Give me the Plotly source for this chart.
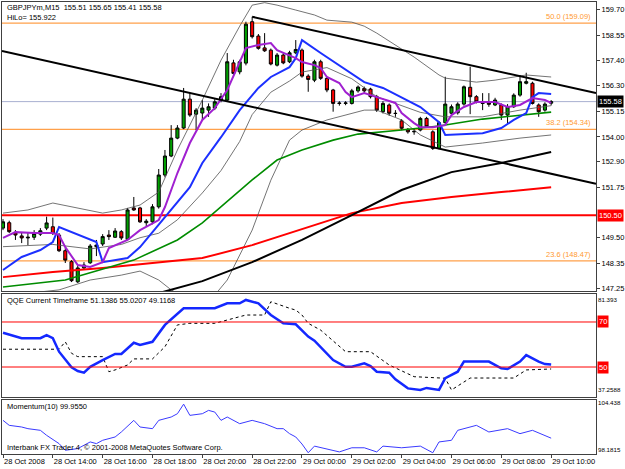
import plotly.graph_objects as go
from plotly.subplots import make_subplots

# ---------------- data ----------------
bars = list(range(89))
opens = [149.93,150.17,149.74,149.58,149.49,149.52,149.66,149.93,149.99,149.62,
         148.92,148.43,147.53,148.15,148.38,149.10,149.22,149.62,149.52,149.77,
         149.43,150.83,150.83,150.17,150.21,150.88,152.30,153.15,153.95,154.40,
         155.69,155.02,155.07,155.20,155.29,155.65,155.65,157.31,156.91,157.30,
         159.15,158.51,157.98,157.88,157.21,157.66,157.36,157.76,157.88,156.72,
         156.54,157.36,156.62,156.10,155.52,155.50,155.50,156.06,156.17,156.14,
         155.80,155.13,155.43,155.06,154.72,154.34,154.23,154.31,154.83,154.23,
         153.49,154.64,155.06,155.08,155.47,156.22,155.80,155.52,155.53,155.43,
         155.43,154.98,155.35,155.87,156.40,156.40,155.43,155.20,155.51]
highs = [150.33,150.26,149.84,149.75,149.75,149.84,149.93,150.44,150.40,149.71,
         149.03,148.50,148.28,148.41,149.22,149.40,149.66,149.84,149.93,149.84,
         150.83,151.32,150.88,150.33,151.00,152.57,153.42,154.53,154.53,156.19,
         155.96,155.29,155.65,155.50,155.69,155.96,157.75,157.45,157.45,159.15,
         159.37,158.60,158.64,157.95,157.75,157.75,157.85,158.33,157.95,156.80,
         157.45,157.45,156.70,156.15,155.60,155.60,156.15,156.30,156.25,156.20,
         155.88,155.60,155.50,155.20,154.80,154.40,154.40,154.90,154.90,154.30,
         154.70,156.69,155.45,155.55,156.30,157.14,155.87,155.96,155.96,155.75,
         155.50,155.47,155.95,156.77,156.87,156.47,155.50,155.55,155.65]
lows = [149.84,149.71,149.40,149.26,149.17,149.40,149.58,149.84,149.62,148.86,
        148.37,147.52,147.48,148.06,148.33,148.68,149.13,149.40,149.49,149.40,
        149.40,150.70,150.16,149.99,150.10,150.80,152.20,153.10,153.90,154.35,
        154.90,154.31,154.76,154.90,155.20,155.55,155.60,156.75,156.80,157.20,
        158.40,157.90,157.80,157.20,157.15,157.25,157.30,157.70,156.65,156.02,
        156.45,156.55,156.00,155.13,155.40,155.42,155.45,155.98,155.95,155.72,
        155.12,155.05,154.95,154.90,154.30,154.15,154.10,154.25,154.40,153.42,
        153.45,154.60,154.98,155.00,155.40,155.02,155.50,155.20,155.35,155.38,
        154.76,154.60,155.30,155.80,156.35,155.45,154.90,155.13,155.41]
closes = [150.21,149.77,149.62,149.49,149.52,149.69,149.81,150.16,149.69,148.92,
          148.50,147.58,148.15,148.28,149.13,149.17,149.55,149.55,149.80,149.49,
          150.74,150.74,150.21,150.24,150.88,152.30,153.15,153.95,154.40,155.69,
          154.98,155.20,155.29,155.35,155.57,155.80,157.36,156.84,157.36,159.04,
          158.48,157.96,157.85,157.26,157.66,157.31,157.76,157.91,156.72,156.57,
          157.36,156.62,156.10,155.50,155.50,155.52,156.06,156.23,156.06,155.80,
          155.20,155.50,155.06,155.05,154.39,154.23,154.25,154.83,154.46,153.49,
          154.64,155.47,155.35,155.47,156.24,155.80,155.57,155.50,155.46,155.65,
          154.98,155.35,155.87,156.47,156.47,155.50,155.13,155.47,155.58]

# moving averages / bands (bar index, price)
purple_x = [0,2,5,8,9,10,12,14,16,17,20,22,25,26,28,30,32,34,36,39,41,43,44,46,47,48,50,51,52,54,55,56,58,60,63,64,66,67,69,71,72,74,76,79,81,83,85,87,88]
purple_y = [149.49,149.75,149.71,149.71,149.62,149.08,148.28,148.19,148.41,149.04,149.40,149.84,150.29,150.87,152.39,153.73,154.76,155.29,156.10,157.97,158.11,158.20,157.88,157.66,157.52,157.35,157.21,157.08,156.68,156.41,156.01,155.78,155.96,155.78,155.52,155.07,154.62,154.44,154.44,154.53,154.98,155.34,155.56,155.56,155.34,155.43,155.74,155.65,155.52]
hilo_x = [0,3,6,8,9,15,16,20,22,26,30,32,35,38,41,43,46,47,48,51,55,58,61,64,67,70,71,77,80,82,84,85,86,88]
hilo_y = [148.06,148.64,148.95,149.31,149.98,149.31,148.41,148.59,149.08,150.42,151.76,152.84,153.99,155.20,156.19,156.68,157.12,157.52,158.33,157.75,156.99,156.45,156.19,155.78,155.34,154.66,154.09,154.17,154.40,154.76,155.07,155.78,155.96,155.922]
green_x = [0,10,21,28,32,35,40,44,48,53,57,64,70,77,83,88]
green_y = [147.30,147.61,148.50,149.40,150.16,150.87,152.08,152.97,153.42,153.86,154.13,154.31,154.49,154.80,154.98,155.11]
red_x = [0,8,16,24,32,40,48,56,64,72,80,88]
red_y = [147.74,147.97,148.15,148.37,148.59,149.17,149.89,150.60,151.05,151.32,151.54,151.76]
black_x = [24,32,40,48,56,64,72,80,88]
black_y = [146.95,147.56,148.41,149.40,150.51,151.63,152.43,152.84,153.33]
bb_up_x = [0,4,8,12,16,19,22,25,28,32,35,38,40,42,44,47,50,52,56,58,60,66,70,71,74,76,79,82,84,88]
bb_up_y = [150.60,150.74,151.05,150.83,150.60,150.74,150.96,151.54,153.42,155.65,157.43,158.95,159.89,160.00,159.89,159.67,159.45,159.22,159.13,158.95,158.64,157.57,156.77,156.63,156.54,156.45,156.54,156.68,156.77,156.68]
bb_mid_x = [0,8,14,19,22,25,28,32,35,38,40,43,46,48,52,56,60,64,67,71,77,83,88]
bb_mid_y = [149.1,149.2,149.0,149.2,149.5,149.7,150.3,151.5,152.5,153.8,155.0,156.0,156.5,156.9,157.1,156.6,155.8,155.4,155.1,154.9,154.9,155.2,155.4]
bb_lo_x = [0,9,14,19,22,25,27,30,34,36,40,43,46,48,52,55,58,60,64,67,71,77,83,88]
bb_lo_y = [146.9,147.17,147.61,147.83,148.01,147.61,147.17,146.72,146.94,147.61,149.84,152.07,153.86,154.31,154.76,154.98,155.20,155.20,154.76,154.09,153.55,153.73,153.95,154.09]

# trendlines (bar, price)
trend_hi_x = [40, 95.2]
trend_hi_y = [159.37, 155.96]
trend_lo_x = [-0.16, 95.2]
trend_lo_y = [157.84, 151.91]

fib_levels = ["50.0", "38.2", "23.6"]
fib_prices = [159.09, 154.34, 148.47]
support_level = 150.50
hilo_value = 155.922

price_ticks = [159.70,158.55,157.40,156.30,155.15,154.00,152.90,151.75,149.50,148.35,147.25]

# QQE
qqe_x = [0,3,6,7,8,9,11,12,13,14,16,18,19,21,22,24,26,29,34,36,38,39,41,43,45,47,49,50,53,55,56,58,59,60,62,63,65,67,68,70,71,73,74,75,78,80,81,83,84,86,87,88]
qqe_fast = [65.2,62.8,62.8,64.2,62.8,56.8,49.9,48.2,47.5,50.1,53.1,55.8,55.8,60.8,59.8,61.2,68.7,76.1,76.1,78.3,78.3,79.8,78.3,73.1,69.4,69.0,63.5,61.7,53.1,50.1,50.1,51.6,50.4,47.9,47.5,44.5,40.5,39.8,40.7,39.8,45.0,47.9,52.4,52.4,52.4,49.4,49.1,52.4,55.3,52.4,51.3,51.1386]
qqe_slow_x = [0,9,10,11,12,16,17,18,20,21,24,26,28,30,34,36,39,42,43,46,47,48,49,51,55,59,62,66,71,72,75,82,84,88]
qqe_slow = [57.9,57.9,61.2,56.1,54.6,54.6,47.9,48.7,50.9,53.6,53.6,59.0,68.7,69.4,69.4,70.9,73.1,73.1,79.0,76.1,75.3,73.1,69.4,66.4,56.8,56.8,50.9,45.7,45.0,39.8,45.1,45.1,48.7,49.1168]
qqe_levels = [70, 50]
qqe_ticks = [81.393, 37.2588]

# Momentum
mom_x = [0,1,3,4,6,7,9,10,12,14,15,16,18,19,21,22,24,25,27,28,29,30,32,33,34,35,36,38,40,42,44,45,46,47,48,49,50,54,56,58,60,61,64,67,69,70,72,73,76,78,81,83,85,88]
mom_y = [102.1,101.5,101.3,101.1,100.9,100.3,99.3,98.5,98.7,99.5,99.3,99.7,100.1,100.7,102.1,101.3,101.1,102.1,102.5,102.9,104.05,102.7,102.9,103.3,103.1,102.1,102.5,101.7,102.1,101.7,101.1,101.1,100.5,100.1,99.25,98.2,99.0,98.3,98.8,98.8,98.3,99.0,98.8,99.0,98.2,99.5,99.7,100.9,101.5,100.7,101.1,100.5,100.9,99.955]
mom_ticks = [104.4377, 98.1815]

time_ticks = [0,8,16,24,32,40,48,56,64,72,80,88]
time_labels = ["28 Oct 2008","28 Oct 14:00","28 Oct 16:00","28 Oct 18:00","28 Oct 20:00",
               "28 Oct 22:00","29 Oct 00:00","29 Oct 02:00","29 Oct 04:00","29 Oct 06:00",
               "29 Oct 08:00","29 Oct 10:00"]

# ---------------- figure ----------------
FONT = "Liberation Sans, Arial, sans-serif"
FS = 7.5
W, H = 625, 469
fig = make_subplots(rows=3, cols=1, shared_xaxes=True, vertical_spacing=0.0)

def line(x, y, color, width, row=1, dash=None):
    fig.add_trace(go.Scatter(x=x, y=y, mode="lines", line=dict(color=color, width=width, dash=dash),
                             showlegend=False, hoverinfo="skip"), row=row, col=1)

# horizontal objects (below)
for lvl, p in zip(fib_levels, fib_prices):
    fig.add_shape(type="line", xref="x domain", yref="y", x0=0, x1=1, y0=p, y1=p,
                  line=dict(color="#FFA04A", width=1.2), layer="below")
fig.add_shape(type="line", xref="x domain", yref="y", x0=0, x1=1, y0=support_level, y1=support_level,
              line=dict(color="#FF0000", width=2), layer="below")
fig.add_shape(type="line", xref="x domain", yref="y", x0=0, x1=1, y0=closes[-1], y1=closes[-1],
              line=dict(color="#A8B0D0", width=1), layer="below")

# bands
line(bb_up_x, bb_up_y, "#505050", 0.8)
line(bb_mid_x, bb_mid_y, "#505050", 0.8)
line(bb_lo_x, bb_lo_y, "#505050", 0.8)
line(red_x, red_y, "#FF0000", 2)
line(black_x, black_y, "#000000", 2)
line(green_x, green_y, "#008C00", 1.6)

fig.add_trace(go.Candlestick(x=bars, open=opens, high=highs, low=lows, close=closes,
                             increasing=dict(line=dict(color="black", width=1), fillcolor="#00A000"),
                             decreasing=dict(line=dict(color="black", width=1), fillcolor="#FF0000"),
                             whiskerwidth=0, showlegend=False, hoverinfo="skip"), row=1, col=1)

line(hilo_x, hilo_y, "#1C30FF", 2)
line(purple_x, purple_y, "#A020D0", 2)
line(trend_hi_x, trend_hi_y, "#000000", 2)
line(trend_lo_x, trend_lo_y, "#000000", 2)

# QQE panel
for lv in qqe_levels:
    fig.add_shape(type="line", xref="x2 domain", yref="y2", x0=0, x1=1, y0=lv, y1=lv,
                  line=dict(color="#FF0000", width=1))
line(qqe_slow_x, qqe_slow, "#000000", 1, row=2, dash="dot")
line(qqe_x, qqe_fast, "#1428FF", 2.5, row=2)

# Momentum panel
line(mom_x, mom_y, "#3A3AFF", 1, row=3)

xdom = [2 / W, 596 / W]
def ydom(top, bot):
    return [(H - bot) / H, (H - top) / H]

axis_common = dict(showline=True, mirror=True, linecolor="#404040", linewidth=1,
                   showgrid=False, zeroline=False, automargin=False)
for i in (1, 2, 3):
    fig.update_xaxes(domain=xdom, range=[-0.16, 95.2], rangeslider_visible=False,
                     showticklabels=False, ticks="", **axis_common, row=i, col=1)
fig.update_xaxes(tickvals=time_ticks, ticktext=time_labels, showticklabels=True, ticks="outside",
                 ticklen=3, tickcolor="#404040", ticklabelposition="outside right", tickangle=0,
                 tickfont=dict(family=FONT, size=FS, color="black"), row=3, col=1)

fig.update_yaxes(domain=ydom(2, 291), range=[147.12, 160.03], side="right",
                 tickvals=price_ticks, ticktext=[f"{v:.2f}" for v in price_ticks],
                 ticks="outside", ticklen=3, tickcolor="#404040",
                 tickfont=dict(family=FONT, size=FS, color="black"), **axis_common, row=1, col=1)
fig.update_yaxes(domain=ydom(294, 397), range=[36.67, 82.44], side="right",
                 showticklabels=False, ticks="", **axis_common, row=2, col=1)
fig.update_yaxes(domain=ydom(400, 454), range=[98.05, 104.55], side="right",
                 showticklabels=False, ticks="", **axis_common, row=3, col=1)

ann = []
tf = dict(family=FONT, size=FS, color="black")
ann.append(dict(xref="paper", yref="paper", x=5 / W, y=1 - 7 / H, xanchor="left", yanchor="middle",
                text=f"GBPJPYm,M15  {opens[-1]:.2f} {highs[-1]:.2f} {lows[-1]:.2f} {closes[-1]:.2f}",
                showarrow=False, font=tf))
ann.append(dict(xref="paper", yref="paper", x=5 / W, y=1 - 17 / H, xanchor="left", yanchor="middle",
                text=f"HiLo= {hilo_value:.3f}", showarrow=False, font=tf))
for lvl, p in zip(fib_levels, fib_prices):
    ann.append(dict(xref="paper", yref="y", x=593 / W, y=p, xanchor="right", yanchor="bottom", yshift=0,
                    text=f"{lvl} ({p:.2f})", showarrow=False,
                    font=dict(family=FONT, size=FS, color="#FF9A30")))
ann.append(dict(xref="paper", yref="y", x=597 / W, y=closes[-1], xanchor="left", yanchor="middle",
                text=f"{closes[-1]:.2f}", showarrow=False, bgcolor="black", borderpad=1,
                font=dict(family=FONT, size=FS, color="white")))
ann.append(dict(xref="paper", yref="y", x=597 / W, y=support_level, xanchor="left", yanchor="middle",
                text=f"{support_level:.2f}", showarrow=False, bgcolor="#FF0000", borderpad=1,
                font=dict(family=FONT, size=FS, color="white")))
# panel scale labels (max / min), nudged inside the panel like the terminal does
sf = dict(family=FONT, size=6.2, color="black")
for val, yr, shift in [(qqe_ticks[0], "y2", -3), (qqe_ticks[1], "y2", 6),
                       (mom_ticks[0], "y3", -2), (mom_ticks[1], "y3", 3)]:
    ann.append(dict(xref="paper", yref=yr, x=597 / W, y=val, xanchor="left", yanchor="middle",
                    yshift=shift, text=f"{val:g}", showarrow=False, font=sf, borderpad=0))
ann.append(dict(xref="paper", yref="paper", x=5 / W, y=1 - 300 / H, xanchor="left", yanchor="middle",
                text=f"QQE Current Timeframe {qqe_fast[-1]:.4f} 55.0207 {qqe_slow[-1]:.4f}",
                showarrow=False, font=tf))
for lv in qqe_levels:
    ann.append(dict(xref="paper", yref="y2", x=597 / W, y=lv, xanchor="left", yanchor="middle",
                    text=str(lv), showarrow=False, bgcolor="#FF0000", borderpad=1,
                    font=dict(family=FONT, size=FS, color="white")))
ann.append(dict(xref="paper", yref="paper", x=5 / W, y=1 - 406 / H, xanchor="left", yanchor="middle",
                text=f"Momentum(10) {mom_y[-1]:.4f}", showarrow=False, font=tf))
ann.append(dict(xref="paper", yref="paper", x=5 / W, y=1 - 447 / H, xanchor="left", yanchor="middle",
                text="Interbank FX Trader 4, © 2001-2008 MetaQuotes Software Corp.", showarrow=False, font=tf))

fig.update_layout(width=W, height=H, margin=dict(l=0, r=0, t=0, b=0),
                  paper_bgcolor="white", plot_bgcolor="white", showlegend=False,
                  font=dict(family=FONT, size=FS), annotations=ann, hovermode=False)
fig.write_html("out.html")
